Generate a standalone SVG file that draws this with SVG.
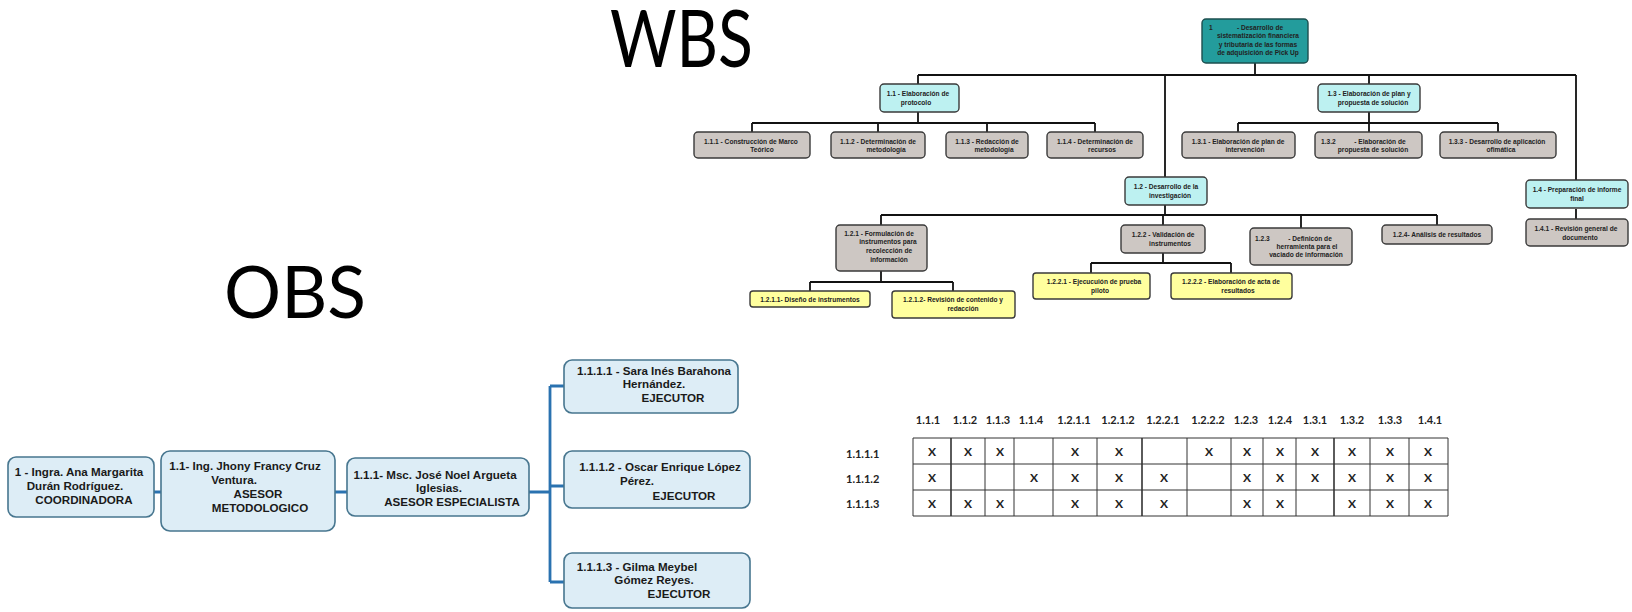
<svg xmlns="http://www.w3.org/2000/svg" width="1632" height="612" viewBox="0 0 1632 612">
<style>
.bg{fill:#ffffff}
.title{font-family:Lato,"Open Sans",sans-serif;fill:#000}
.w rect{stroke:#3a3a3a;stroke-width:1.4}
.root rect{fill:#239c9c;stroke:#1d4f4f}
.cy rect{fill:#bdf1f1}
.gy rect{fill:#cdc7c3}
.yl rect{fill:#ffff9e}
.w text{font-family:"Liberation Sans",Arial,sans-serif;font-size:6.6px;font-weight:bold;fill:#222;text-anchor:middle}
.w text.s{text-anchor:start}
.con{fill:none;stroke:#111;stroke-width:1.8}
.o rect{fill:#ddedf6;stroke:#47768f;stroke-width:1.6}
.o text{font-family:"Liberation Sans",Arial,sans-serif;font-size:11.6px;font-weight:bold;fill:#1a1a1a;text-anchor:middle}
.ocon{fill:none;stroke:#2a72b0;stroke-width:2.8}
.tb line{stroke:#333;stroke-width:1}
.tb text{font-family:Lato,"Liberation Sans",sans-serif;font-size:11px;font-weight:bold;fill:#222}
.tb .x{text-anchor:middle;font-size:12px}
.tb .h{text-anchor:middle}
</style>
<rect class="bg" x="0" y="0" width="1632" height="612"/>

<text class="title" x="610" y="67" font-size="79" textLength="143" lengthAdjust="spacingAndGlyphs">WBS</text>
<text class="title" x="224" y="318" font-size="71" textLength="142" lengthAdjust="spacingAndGlyphs">OBS</text>

<g id="wbs-connectors">
<path class="con" d="M1255 63V75 M918 75H1576 M918 75V84 M1165 75V177 M1369 75V84 M1576 75V181
M918 112V123 M752 123H1095 M752 123V132 M878 123V132 M987 123V132 M1095 123V132
M1369 112V123 M1238 123H1498 M1238 123V132 M1369 123V132 M1498 123V132
M1165 205V215 M881 215H1437 M881 215V225 M1163 215V225 M1301 215V228 M1437 215V225
M881 271V282 M810 282H953 M810 282V291 M953 282V291
M1163 253V263 M1091 263H1231 M1091 263V273 M1231 263V273
M1576 209V220"/>
</g>

<g id="n1" class="w root"><rect x="1202" y="19" width="106" height="44" rx="4"/>
<text class="s" x="1209" y="29.5">1</text><text x="1260" y="29.5">- Desarrollo de</text>
<text x="1258" y="38">sistematización financiera</text>
<text x="1258" y="46.5">y tributaria de las formas</text>
<text x="1258" y="55">de adquisición de Pick Up</text></g>

<g id="n1-1" class="w cy"><rect x="880" y="84" width="79" height="28" rx="4"/>
<text x="918" y="96">1.1 - Elaboración de</text><text x="916" y="105">protocolo</text></g>
<g id="n1-1-1" class="w gy"><rect x="694" y="132" width="116" height="26" rx="4"/>
<text x="751" y="143.5">1.1.1 - Construcción de Marco</text><text x="762" y="152">Teórico</text></g>
<g id="n1-1-2" class="w gy"><rect x="831" y="132" width="94" height="26" rx="4"/>
<text x="878" y="143.5">1.1.2 - Determinación de</text><text x="886" y="152">metodología</text></g>
<g id="n1-1-3" class="w gy"><rect x="946" y="132" width="82" height="26" rx="4"/>
<text x="987" y="143.5">1.1.3 - Redacción de</text><text x="994" y="152">metodología</text></g>
<g id="n1-1-4" class="w gy"><rect x="1047" y="132" width="96" height="26" rx="4"/>
<text x="1095" y="143.5">1.1.4 - Determinación de</text><text x="1102" y="152">recursos</text></g>

<g id="n1-3" class="w cy"><rect x="1318" y="84" width="102" height="28" rx="4"/>
<text x="1369" y="96">1.3 - Elaboración de plan y</text><text x="1373" y="105">propuesta de solución</text></g>
<g id="n1-3-1" class="w gy"><rect x="1182" y="132" width="113" height="26" rx="4"/>
<text x="1238" y="143.5">1.3.1 - Elaboración de plan de</text><text x="1245" y="152">intervención</text></g>
<g id="n1-3-2" class="w gy"><rect x="1315" y="132" width="107" height="26" rx="4"/>
<text class="s" x="1321" y="143.5">1.3.2</text><text x="1380" y="143.5">- Elaboración de</text><text x="1373" y="152">propuesta de solución</text></g>
<g id="n1-3-3" class="w gy"><rect x="1440" y="132" width="116" height="26" rx="4"/>
<text x="1497" y="143.5">1.3.3 - Desarrollo de aplicación</text><text x="1501" y="152">ofimática</text></g>

<g id="n1-2" class="w cy"><rect x="1125" y="177" width="82" height="28" rx="4"/>
<text x="1166" y="189">1.2 - Desarrollo de la</text><text x="1170" y="198">investigación</text></g>
<g id="n1-2-1" class="w gy"><rect x="836" y="225" width="91" height="46" rx="4"/>
<text x="879" y="235.5">1.2.1  - Formulación de</text><text x="888" y="244.2">instrumentos para</text>
<text x="889" y="252.9">recolección de</text><text x="889" y="261.6">información</text></g>
<g id="n1-2-2" class="w gy"><rect x="1121" y="225" width="84" height="28" rx="4"/>
<text x="1163" y="237">1.2.2 - Validación de</text><text x="1170" y="246">instrumentos</text></g>
<g id="n1-2-3" class="w gy"><rect x="1250" y="228" width="102" height="37" rx="4"/>
<text class="s" x="1255" y="240.5">1.2.3</text><text x="1310" y="240.5">- Definicón de</text>
<text x="1307" y="248.7">herramienta para el</text><text x="1306" y="256.9">vaciado de información</text></g>
<g id="n1-2-4" class="w gy"><rect x="1382" y="225" width="110" height="19" rx="4"/>
<text x="1437" y="237">1.2.4- Análisis de resultados</text></g>

<g id="n1-2-1-1" class="w yl"><rect x="750" y="291" width="120" height="16" rx="3"/>
<text x="810" y="301.5">1.2.1.1- Diseño de instrumentos</text></g>
<g id="n1-2-1-2" class="w yl"><rect x="892" y="291" width="123" height="27" rx="3"/>
<text x="953" y="302">1.2.1.2- Revisión de contenido y</text><text x="963" y="311">redacción</text></g>
<g id="n1-2-2-1" class="w yl"><rect x="1033" y="273" width="117" height="26" rx="3"/>
<text x="1094" y="284">1.2.2.1 - Ejecucuión de prueba</text><text x="1100" y="293">piloto</text></g>
<g id="n1-2-2-2" class="w yl"><rect x="1171" y="273" width="121" height="26" rx="3"/>
<text x="1231" y="284">1.2.2.2 - Elaboración de acta de</text><text x="1238" y="293">resultados</text></g>

<g id="n1-4" class="w cy"><rect x="1526" y="180" width="102" height="28" rx="4"/>
<text x="1577" y="192">1.4 - Preparación de informe</text><text x="1577" y="201">final</text></g>
<g id="n1-4-1" class="w gy"><rect x="1526" y="219" width="102" height="27" rx="4"/>
<text x="1576" y="231">1.4.1 - Revisión general de</text><text x="1580" y="240">documento</text></g>

<g id="obs-connectors">
<path class="ocon" d="M154 492H161 M335 492H347 M529 492H550 M550 386V582 M550 386H564 M550 486H564 M550 582H564"/>
</g>
<g id="o1" class="o"><rect x="8" y="457" width="146" height="60" rx="8"/>
<text x="79" y="476">1 - Ingra. Ana Margarita</text><text x="75" y="490">Durán Rodríguez.</text><text x="84" y="504">COORDINADORA</text></g>
<g id="o1-1" class="o"><rect x="161" y="451" width="174" height="80" rx="9"/>
<text x="245" y="470">1.1- Ing. Jhony Francy Cruz</text><text x="234" y="484">Ventura.</text><text x="258" y="498">ASESOR</text><text x="260" y="512">METODOLOGICO</text></g>
<g id="o1-1-1" class="o"><rect x="347" y="458" width="182" height="58" rx="8"/>
<text x="435" y="479">1.1.1- Msc. José Noel Argueta</text><text x="439" y="492">Iglesias.</text><text x="452" y="506">ASESOR ESPECIALISTA</text></g>
<g id="o1-1-1-1" class="o"><rect x="564" y="360" width="174" height="53" rx="8"/>
<text x="654" y="375" font-size="10.8">1.1.1.1 - Sara Inés Barahona</text><text x="654" y="388" font-size="10.8">Hernández.</text><text x="673" y="402" font-size="10.8">EJECUTOR</text></g>
<g id="o1-1-1-2" class="o"><rect x="564" y="451" width="186" height="57" rx="8"/>
<text x="660" y="471">1.1.1.2 - Oscar Enrique López</text><text x="637" y="485">Pérez.</text><text x="684" y="500">EJECUTOR</text></g>
<g id="o1-1-1-3" class="o"><rect x="564" y="553" width="186" height="55" rx="8"/>
<text x="637" y="571">1.1.1.3 - Gilma Meybel</text><text x="654" y="584">Gómez Reyes.</text><text x="679" y="598">EJECUTOR</text></g>

<g id="matrix" class="tb">
<g>
<line x1="913" y1="438" x2="1448" y2="438"/><line x1="913" y1="464" x2="1448" y2="464"/>
<line x1="913" y1="490" x2="1448" y2="490"/><line x1="913" y1="516" x2="1448" y2="516"/>
<line x1="913" y1="438" x2="913" y2="516"/><line x1="951" y1="438" x2="951" y2="516" style="stroke-width:1.6"/>
<line x1="985" y1="438" x2="985" y2="516"/><line x1="1014" y1="438" x2="1014" y2="516"/>
<line x1="1053" y1="438" x2="1053" y2="516"/><line x1="1097" y1="438" x2="1097" y2="516"/>
<line x1="1142" y1="438" x2="1142" y2="516" style="stroke-width:1.6"/><line x1="1187" y1="438" x2="1187" y2="516"/>
<line x1="1231" y1="438" x2="1231" y2="516"/><line x1="1263" y1="438" x2="1263" y2="516"/>
<line x1="1296" y1="438" x2="1296" y2="516"/><line x1="1334" y1="438" x2="1334" y2="516" style="stroke-width:1.6"/>
<line x1="1370" y1="438" x2="1370" y2="516"/><line x1="1409" y1="438" x2="1409" y2="516"/>
<line x1="1448" y1="438" x2="1448" y2="516"/>
</g>
<text class="h" x="928" y="424">1.1.1</text><text class="h" x="965" y="424">1.1.2</text><text class="h" x="998" y="424">1.1.3</text>
<text class="h" x="1031" y="424">1.1.4</text><text class="h" x="1074" y="424">1.2.1.1</text><text class="h" x="1118" y="424">1.2.1.2</text>
<text class="h" x="1163" y="424">1.2.2.1</text><text class="h" x="1208" y="424">1.2.2.2</text><text class="h" x="1246" y="424">1.2.3</text>
<text class="h" x="1280" y="424">1.2.4</text><text class="h" x="1315" y="424">1.3.1</text><text class="h" x="1352" y="424">1.3.2</text>
<text class="h" x="1390" y="424">1.3.3</text><text class="h" x="1430" y="424">1.4.1</text>
<text x="846" y="458">1.1.1.1</text><text x="846" y="483">1.1.1.2</text><text x="846" y="508">1.1.1.3</text>
<text class="x" x="932" y="456">X</text><text class="x" x="968" y="456">X</text><text class="x" x="1000" y="456">X</text>
<text class="x" x="1075" y="456">X</text><text class="x" x="1119" y="456">X</text><text class="x" x="1209" y="456">X</text>
<text class="x" x="1247" y="456">X</text><text class="x" x="1280" y="456">X</text><text class="x" x="1315" y="456">X</text>
<text class="x" x="1352" y="456">X</text><text class="x" x="1390" y="456">X</text><text class="x" x="1428" y="456">X</text>
<text class="x" x="932" y="482">X</text><text class="x" x="1034" y="482">X</text><text class="x" x="1075" y="482">X</text>
<text class="x" x="1119" y="482">X</text><text class="x" x="1164" y="482">X</text><text class="x" x="1247" y="482">X</text>
<text class="x" x="1280" y="482">X</text><text class="x" x="1315" y="482">X</text><text class="x" x="1352" y="482">X</text>
<text class="x" x="1390" y="482">X</text><text class="x" x="1428" y="482">X</text>
<text class="x" x="932" y="508">X</text><text class="x" x="968" y="508">X</text><text class="x" x="1000" y="508">X</text>
<text class="x" x="1075" y="508">X</text><text class="x" x="1119" y="508">X</text><text class="x" x="1164" y="508">X</text>
<text class="x" x="1247" y="508">X</text><text class="x" x="1280" y="508">X</text><text class="x" x="1352" y="508">X</text>
<text class="x" x="1390" y="508">X</text><text class="x" x="1428" y="508">X</text>
</g>
</svg>
